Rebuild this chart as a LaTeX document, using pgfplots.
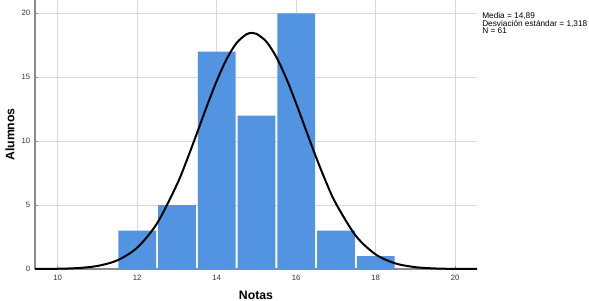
\documentclass[border=0pt]{standalone}
\usepackage{pgfplots}
\pgfplotsset{compat=1.18}
\usepackage{fontspec}
\setmainfont{Liberation Sans}
\definecolor{barblue}{HTML}{5294E2}
\definecolor{gridgray}{HTML}{D9D9D9}
\definecolor{axgray}{HTML}{8C8C8C}
\definecolor{ticktext}{HTML}{333333}
\begin{document}
\begin{tikzpicture}
\useasboundingbox (-26.25pt,-23.25pt) rectangle (415.5pt,201.75pt);
\begin{axis}[
  at={(0pt,0pt)}, anchor=south west,
  scale only axis, width=331.5pt, height=201.75pt,
  xmin=9.43, xmax=20.55, ymin=0, ymax=21.04,
  axis x line*=bottom, axis y line*=left,
  axis line style={axgray, line width=0.9pt, -},
  xtick={10,12,14,16,18,20}, ytick={0,5,10,15,20},
  major tick length=2pt, tick style={axgray, line width=0.6pt},
  tick pos=left,
  grid=major, major grid style={gridgray, line width=0.8pt},
  tick label style={font=\fontsize{5.8pt}{6.5pt}\selectfont, text=ticktext},
  /pgf/number format/assume math mode=true,
  xticklabel style={yshift=-1pt},
  xlabel={Notas}, ylabel={Alumnos},
  xlabel style={at={(axis description cs:0.5,0)}, anchor=center, yshift=-19.5pt, font=\fontsize{9.2pt}{10pt}\selectfont\bfseries},
  ylabel style={at={(axis description cs:0,0.5)}, anchor=center, yshift=18.75pt, font=\fontsize{9.2pt}{10pt}\selectfont\bfseries},
  clip=false,
]
\addplot[ybar, bar width=0.95, bar shift=0pt, fill=barblue, draw=none] coordinates {
  (12,3) (13,5) (14,17) (15,12) (16,20) (17,3) (18,1)
};
\addplot[black, line width=1.5pt, smooth] coordinates {
  (9.43,0.0035) (10,0.0189) (10.5,0.072) (11,0.237) (11.5,0.676) (12,1.668) (12.5,3.567)
  (13,6.605) (13.25,8.514) (13.5,10.589) (13.75,12.701) (14,14.699) (14.25,16.411)
  (14.5,17.673) (14.75,18.360) (14.89,18.464) (15,18.400) (15.25,17.788) (15.5,16.589)
  (15.75,14.923) (16,12.951) (16.25,10.842) (16.5,8.756) (16.75,6.821) (17,5.126)
  (17.5,2.599) (18,1.141) (18.5,0.434) (19,0.143) (19.5,0.0407) (20,0.0100) (20.55,0.0015)
};
\end{axis}
\node[anchor=north west, inner sep=0pt, align=left, font=\fontsize{6.2pt}{5.6pt}\selectfont] at (335.25pt,192.5pt)
  {Media = 14,89\\Desviación estándar = 1,318\\N = 61};
\end{tikzpicture}
\end{document}
